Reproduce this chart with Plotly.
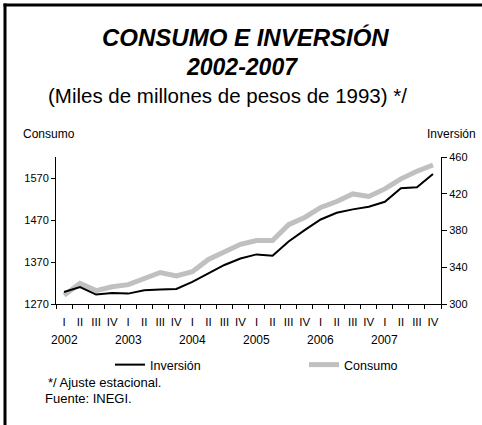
import plotly.graph_objects as go

years = ["2002", "2003", "2004", "2005", "2006", "2007"]
quarters = ["I", "II", "III", "IV"]
periods = [y + "-" + q for y in years for q in quarters]
quarter_labels = [q for y in years for q in quarters]

# Consumo (eje izquierdo), Inversión (eje derecho)
consumo = [1291, 1319, 1302, 1311, 1316, 1331, 1345, 1337, 1347, 1376, 1394, 1412,
           1421, 1421, 1459, 1476, 1500, 1514, 1532, 1526, 1544, 1568, 1586, 1601]
inversion = [313, 318.5, 310.3, 312, 311.3, 315, 315.7, 316.4, 324, 333.5, 342.5, 349.5,
             354, 352.5, 368, 380.4, 392, 399.3, 403, 405.8, 411.3, 425.9, 427, 441.5]

left_ticks = [1270, 1370, 1470, 1570]
right_ticks = [300, 340, 380, 420, 460]

FONT = "Liberation Sans, Arial, sans-serif"

fig = go.Figure()
# gray first so the black line sits on top
fig.add_trace(go.Scatter(x=periods, y=consumo, name="Consumo", yaxis="y", legend="legend2",
                         mode="lines", line=dict(color="#c0c0c0", width=5)))
fig.add_trace(go.Scatter(x=periods, y=inversion, name="Inversión", yaxis="y2", legend="legend",
                         mode="lines", line=dict(color="black", width=2)))

# plot area in pixels: x 56..441, y 157..304
L, R, T, B = 56, 441, 157, 304
W, H = R - L, B - T


def px(x):
    return (x - L) / W


def py(y):
    return (B - y) / H


def note(text, x, y, size, anchor="center", xref="paper"):
    return dict(text=text, x=x, y=y, xref=xref, yref="paper", xanchor=anchor,
                yanchor="middle", showarrow=False,
                font=dict(size=size, color="black", family=FONT))


annotations = [
    note("<b><i>CONSUMO E INVERSIÓN</i></b>", px(245), py(37), 24),
    note("<b><i>2002-2007</i></b>", px(242), py(67), 23),
    note("(Miles de millones de pesos de 1993) */", px(227), py(95), 20.5),
    note("Consumo", px(21), py(134), 12, "left"),
    note("Inversión", px(478), py(134), 12, "right"),
    note("*/ Ajuste estacional.", px(46), py(382), 13, "left"),
    note("Fuente: INEGI.", px(43), py(398.5), 13, "left"),
]
for y in years:
    annotations.append(note(y, y + "-I", py(339.5), 12, "center", xref="x"))

# outer frame: only the top and left edges fall inside the picture
frame = dict(color="black", width=3)
fig.add_shape(type="line", xref="paper", yref="paper",
              x0=px(3.5), x1=px(490), y0=py(5), y1=py(5), line=frame, layer="above")
fig.add_shape(type="line", xref="paper", yref="paper",
              x0=px(5), x1=px(5), y0=py(3.5), y1=py(440), line=frame, layer="above")

legend_style = dict(orientation="h", y=py(365), xanchor="left", yanchor="middle",
                    font=dict(size=12.5, family=FONT, color="black"),
                    bgcolor="rgba(0,0,0,0)")

fig.update_layout(
    width=482, height=425,
    margin=dict(l=L, r=482 - R, t=T, b=425 - B),
    paper_bgcolor="white", plot_bgcolor="white",
    font=dict(family=FONT, size=11, color="black"),
    showlegend=True,
    legend=dict(x=px(110), **legend_style),
    legend2=dict(x=px(304), **legend_style),
    xaxis=dict(type="category", categoryorder="array", categoryarray=periods,
               tickmode="array", tickvals=periods, ticktext=quarter_labels,
               tickson="boundaries", ticks="outside", ticklen=4, tickcolor="black",
               showline=True, linecolor="black", linewidth=1, showgrid=False,
               tickfont=dict(size=11.5), tickangle=0, ticklabelstandoff=7,
               range=[-0.5, 23.5]),
    yaxis=dict(range=[1270, 1620], tickmode="array", tickvals=left_ticks,
               ticks="outside", ticklen=4, tickcolor="black", showline=True,
               linecolor="black", linewidth=1, showgrid=False, zeroline=False,
               tickfont=dict(size=11)),
    yaxis2=dict(range=[300, 460], tickmode="array", tickvals=right_ticks, overlaying="y",
                side="right", ticks="outside", ticklen=5, tickcolor="black", showline=True,
                linecolor="black", linewidth=1, showgrid=False, zeroline=False,
                tickfont=dict(size=11)),
    annotations=annotations,
)

fig.write_html("out.html", config={"displayModeBar": False},
               post_script="document.body.style.margin='0px';")
